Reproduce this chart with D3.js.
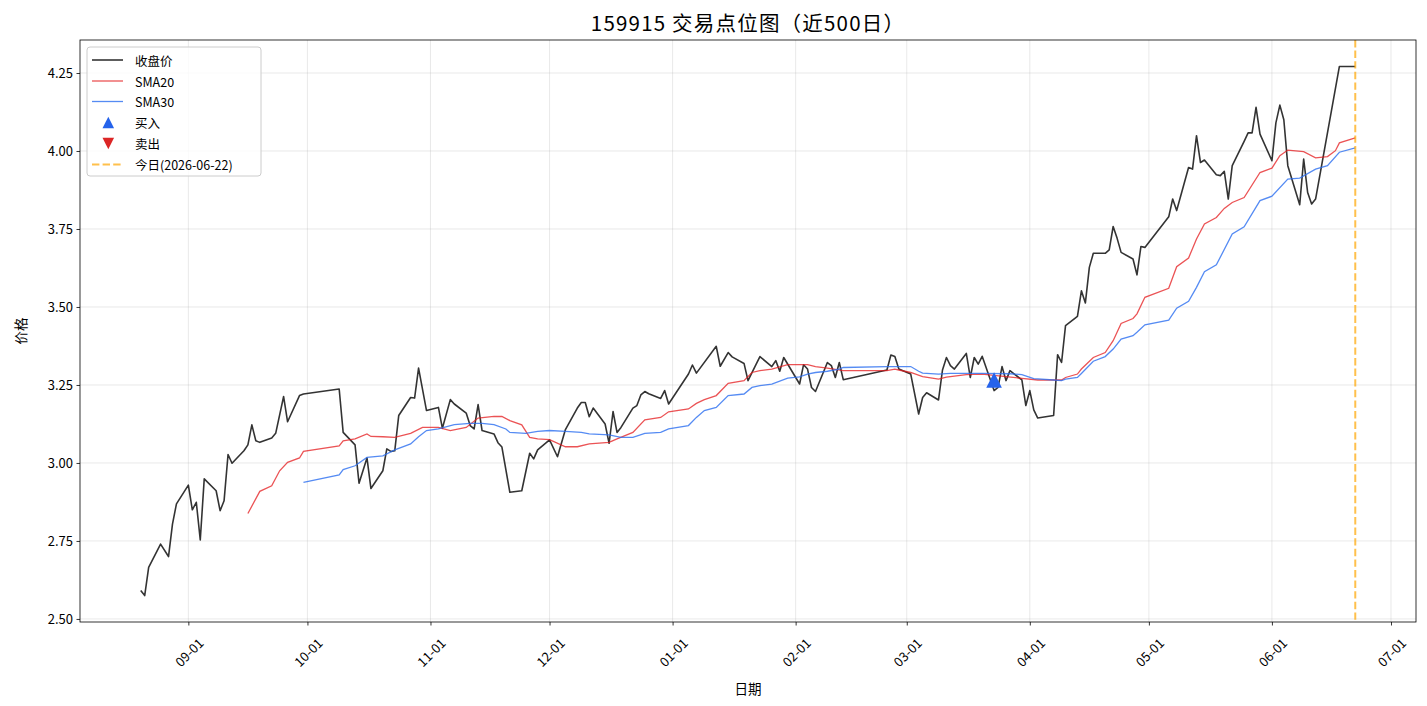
<!DOCTYPE html>
<html><head><meta charset="utf-8">
<script src="https://cdn.jsdelivr.net/npm/d3@7"></script>
<style>
body{margin:0;background:#fff}
svg{display:block}
text{font-family:"Noto Sans CJK SC","DejaVu Sans",sans-serif;fill:#000}
</style>
</head><body>
<svg id="chart" width="1427" height="706"></svg>
<script>
// ---------------- DATA ----------------
const closeDates = [
"2025-08-20","2025-08-21","2025-08-22","2025-08-25","2025-08-27","2025-08-28","2025-08-29",
"2025-09-01","2025-09-02","2025-09-03","2025-09-04","2025-09-05","2025-09-08","2025-09-09","2025-09-10","2025-09-11","2025-09-12",
"2025-09-15","2025-09-16","2025-09-17","2025-09-18","2025-09-19","2025-09-22","2025-09-23","2025-09-25","2025-09-26","2025-09-29","2025-09-30",
"2025-10-09","2025-10-10","2025-10-13","2025-10-14","2025-10-16","2025-10-17","2025-10-20","2025-10-21","2025-10-22","2025-10-23","2025-10-24",
"2025-10-27","2025-10-28","2025-10-29","2025-10-31","2025-11-03","2025-11-04","2025-11-06","2025-11-07","2025-11-10","2025-11-11","2025-11-12",
"2025-11-13","2025-11-14","2025-11-17","2025-11-18","2025-11-19","2025-11-21","2025-11-24","2025-11-26","2025-11-27","2025-11-28",
"2025-12-01","2025-12-03","2025-12-05","2025-12-08","2025-12-09","2025-12-10","2025-12-11","2025-12-12","2025-12-15","2025-12-16","2025-12-17",
"2025-12-18","2025-12-19","2025-12-22","2025-12-23","2025-12-24","2025-12-25","2025-12-26","2025-12-29","2025-12-30","2025-12-31",
"2026-01-05","2026-01-06","2026-01-07","2026-01-12","2026-01-13","2026-01-15","2026-01-16","2026-01-19","2026-01-20","2026-01-23",
"2026-01-26","2026-01-27","2026-01-28","2026-01-29","2026-02-02","2026-02-03","2026-02-04","2026-02-05","2026-02-06","2026-02-09",
"2026-02-10","2026-02-11","2026-02-12","2026-02-13","2026-02-24","2026-02-25","2026-02-26","2026-02-27","2026-03-02","2026-03-04",
"2026-03-05","2026-03-06","2026-03-09","2026-03-10","2026-03-11","2026-03-12","2026-03-13","2026-03-16","2026-03-17","2026-03-18",
"2026-03-19","2026-03-20","2026-03-23","2026-03-24","2026-03-25","2026-03-26","2026-03-27","2026-03-30","2026-03-31","2026-04-01",
"2026-04-02","2026-04-03","2026-04-07","2026-04-08","2026-04-09","2026-04-10","2026-04-13","2026-04-14","2026-04-15","2026-04-16",
"2026-04-17","2026-04-20","2026-04-21","2026-04-22","2026-04-23","2026-04-24","2026-04-27","2026-04-28","2026-04-29","2026-04-30",
"2026-05-06","2026-05-07","2026-05-08","2026-05-11","2026-05-12","2026-05-13","2026-05-14","2026-05-15","2026-05-18","2026-05-19",
"2026-05-20","2026-05-21","2026-05-22","2026-05-25","2026-05-26","2026-05-27","2026-05-28","2026-05-29","2026-06-01","2026-06-02",
"2026-06-03","2026-06-04","2026-06-05","2026-06-08","2026-06-09","2026-06-10","2026-06-11","2026-06-12","2026-06-18","2026-06-22"
];
const closeValues = [
2.591,2.575,2.665,2.740,2.700,2.804,2.869,
2.929,2.850,2.874,2.753,2.949,2.911,2.847,2.879,3.027,2.999,
3.039,3.058,3.122,3.071,3.066,3.080,3.095,3.213,3.132,3.216,3.221,
3.237,3.098,3.058,2.935,3.016,2.918,2.975,3.045,3.037,3.039,3.152,
3.210,3.208,3.304,3.168,3.178,3.111,3.203,3.189,3.160,3.120,3.109,
3.187,3.104,3.093,3.065,3.051,2.906,2.911,3.031,3.013,3.042,
3.074,3.020,3.107,3.176,3.194,3.194,3.148,3.176,3.125,3.063,3.165,
3.098,3.114,3.176,3.184,3.218,3.229,3.222,3.207,3.232,3.189,
3.285,3.314,3.288,3.374,3.310,3.354,3.340,3.319,3.264,3.341,
3.309,3.328,3.294,3.338,3.253,3.315,3.301,3.242,3.229,3.322,
3.312,3.274,3.322,3.267,3.298,3.346,3.341,3.301,3.285,3.157,
3.210,3.225,3.202,3.298,3.338,3.312,3.301,3.351,3.274,3.338,
3.317,3.342,3.232,3.242,3.309,3.264,3.296,3.266,3.184,3.232,
3.170,3.144,3.152,3.347,3.322,3.440,3.470,3.552,3.513,3.627,
3.672,3.672,3.683,3.758,3.720,3.675,3.654,3.603,3.694,3.691,
3.789,3.846,3.809,3.947,3.942,4.049,3.963,3.971,3.924,3.921,
3.935,3.846,3.953,4.031,4.058,4.058,4.140,4.054,3.969,4.090,
4.147,4.100,3.953,3.828,3.974,3.867,3.830,3.846,4.271,4.271
];

const sma20Dates = [
"2025-09-16","2025-09-19","2025-09-22","2025-09-24","2025-09-26","2025-09-29","2025-09-30","2025-10-09","2025-10-10","2025-10-13",
"2025-10-16","2025-10-17","2025-10-20","2025-10-23","2025-10-27","2025-10-30","2025-11-03","2025-11-06","2025-11-10","2025-11-13",
"2025-11-17","2025-11-19","2025-11-21","2025-11-24","2025-11-26","2025-11-28","2025-12-01","2025-12-05","2025-12-08","2025-12-11",
"2025-12-16","2025-12-18","2025-12-22","2025-12-25","2025-12-29","2025-12-31","2026-01-05","2026-01-07","2026-01-09","2026-01-12",
"2026-01-15","2026-01-19","2026-01-21","2026-01-23","2026-01-26","2026-01-30","2026-02-04","2026-02-06","2026-02-09","2026-02-13",
"2026-02-24","2026-02-26","2026-02-27","2026-03-02","2026-03-05","2026-03-09","2026-03-11","2026-03-16","2026-03-20","2026-03-26",
"2026-03-30","2026-04-03","2026-04-09","2026-04-10","2026-04-13","2026-04-14","2026-04-17","2026-04-20","2026-04-22","2026-04-24",
"2026-04-27","2026-04-28","2026-04-30","2026-05-06","2026-05-08","2026-05-11","2026-05-13","2026-05-15","2026-05-18","2026-05-20",
"2026-05-22","2026-05-25","2026-05-29","2026-06-01","2026-06-03","2026-06-05","2026-06-09","2026-06-12","2026-06-15","2026-06-17",
"2026-06-18","2026-06-22"
];
const sma20Values = [
2.838,2.909,2.927,2.975,3.002,3.016,3.037,3.055,3.071,3.077,
3.093,3.085,3.084,3.082,3.095,3.114,3.114,3.104,3.114,3.144,
3.149,3.149,3.136,3.122,3.082,3.077,3.075,3.052,3.052,3.061,
3.066,3.077,3.098,3.138,3.146,3.164,3.173,3.191,3.203,3.216,
3.255,3.264,3.290,3.296,3.301,3.315,3.315,3.309,3.304,3.296,
3.296,3.301,3.298,3.290,3.277,3.269,3.275,3.283,3.285,3.277,
3.271,3.266,3.266,3.274,3.285,3.301,3.338,3.354,3.392,3.447,
3.463,3.478,3.531,3.560,3.629,3.657,3.718,3.766,3.787,3.816,
3.835,3.851,3.931,3.945,3.985,4.003,3.998,3.978,3.982,4.001,
4.026,4.042
];

const sma30Dates = [
"2025-09-30","2025-10-09","2025-10-10","2025-10-13","2025-10-16","2025-10-20","2025-10-23","2025-10-27","2025-10-29","2025-10-31",
"2025-11-03","2025-11-07","2025-11-11","2025-11-14","2025-11-17","2025-11-20","2025-11-21","2025-11-25","2025-11-28","2025-12-01",
"2025-12-05","2025-12-09","2025-12-11","2025-12-16","2025-12-19","2025-12-22","2025-12-25","2025-12-29","2025-12-31","2026-01-05",
"2026-01-07","2026-01-09","2026-01-12","2026-01-15","2026-01-19","2026-01-21","2026-01-23","2026-01-26","2026-01-30","2026-02-02",
"2026-02-04","2026-02-06","2026-02-09","2026-02-12","2026-02-13","2026-02-24","2026-03-02","2026-03-04","2026-03-05","2026-03-09",
"2026-03-12","2026-03-20","2026-03-27","2026-03-30","2026-04-02","2026-04-07","2026-04-09","2026-04-10","2026-04-13","2026-04-14",
"2026-04-17","2026-04-20","2026-04-22","2026-04-24","2026-04-27","2026-04-28","2026-04-30","2026-05-06","2026-05-08","2026-05-11",
"2026-05-13","2026-05-15","2026-05-18","2026-05-22","2026-05-25","2026-05-29","2026-06-01","2026-06-05","2026-06-08","2026-06-12",
"2026-06-15","2026-06-18","2026-06-22"
];
const sma30Values = [
2.938,2.962,2.979,2.991,3.018,3.023,3.042,3.061,3.084,3.104,
3.109,3.123,3.127,3.127,3.123,3.109,3.098,3.095,3.101,3.104,
3.101,3.098,3.093,3.090,3.082,3.082,3.095,3.098,3.109,3.120,
3.146,3.168,3.178,3.216,3.221,3.242,3.248,3.253,3.272,3.276,
3.285,3.290,3.294,3.301,3.306,3.309,3.309,3.294,3.288,3.285,
3.287,3.287,3.286,3.283,3.270,3.266,3.264,3.269,3.274,3.287,
3.326,3.341,3.365,3.397,3.408,3.419,3.443,3.458,3.496,3.518,
3.563,3.613,3.635,3.734,3.757,3.841,3.855,3.910,3.913,3.942,
3.953,3.996,4.010
];

const buyDates = ["2026-03-23"];
const buyValues = [3.266];
const sellDates = [];
const sellValues = [];
const todayDate = "2026-06-22";

const yTickValues = [2.50, 2.75, 3.00, 3.25, 3.50, 3.75, 4.00, 4.25];
const titleText = "159915 交易点位图（近500日）";
const legendLabels = ["收盘价", "SMA20", "SMA30", "买入", "卖出", "今日(2026-06-22)"];

// ---------------- CHART ----------------
const parse = d3.timeParse("%Y-%m-%d");
const W = 1427, H = 706;
const m = {left: 80, right: 11, top: 40, bottom: 84};
const pw = W - m.left - m.right, ph = H - m.top - m.bottom;

const closeData = closeDates.map((d, i) => ({date: parse(d), value: closeValues[i]}));
const sma20Data = sma20Dates.map((d, i) => ({date: parse(d), value: sma20Values[i]}));
const sma30Data = sma30Dates.map((d, i) => ({date: parse(d), value: sma30Values[i]}));
const buyData = buyDates.map((d, i) => ({date: parse(d), value: buyValues[i]}));
const sellData = sellDates.map((d, i) => ({date: parse(d), value: sellValues[i]}));
const today = parse(todayDate);

const xExt = d3.extent(closeData, d => d.date);
const xPad = (xExt[1] - xExt[0]) * 0.05;
const x = d3.scaleTime()
  .domain([new Date(+xExt[0] - xPad), new Date(+xExt[1] + xPad)])
  .range([m.left, m.left + pw]);
const yExt = d3.extent(closeData, d => d.value);
const yPad = (yExt[1] - yExt[0]) * 0.05;
const y = d3.scaleLinear()
  .domain([yExt[0] - yPad, yExt[1] + yPad])
  .range([m.top + ph, m.top]);

const svg = d3.select("#chart");
svg.append("rect").attr("width", W).attr("height", H).attr("fill", "#fff");

const xTicks = d3.timeMonth.range(d3.timeMonth.ceil(x.domain()[0]), x.domain()[1]);

// grid
const grid = svg.append("g");
grid.selectAll(".gx").data(xTicks).join("line")
  .attr("x1", d => x(d)).attr("x2", d => x(d))
  .attr("y1", m.top).attr("y2", m.top + ph)
  .attr("stroke", "#b0b0b0").attr("stroke-opacity", 0.35).attr("stroke-width", 0.8);
grid.selectAll(".gy").data(yTickValues).join("line")
  .attr("x1", m.left).attr("x2", m.left + pw)
  .attr("y1", d => y(d)).attr("y2", d => y(d))
  .attr("stroke", "#b0b0b0").attr("stroke-opacity", 0.35).attr("stroke-width", 0.8);

// clip
svg.append("clipPath").attr("id", "clip").append("rect")
  .attr("x", m.left).attr("y", m.top).attr("width", pw).attr("height", ph);
const plot = svg.append("g").attr("clip-path", "url(#clip)");

const line = d3.line().x(d => x(d.date)).y(d => y(d.value));

plot.append("path").datum(closeData).attr("d", line)
  .attr("fill", "none").attr("stroke", "#000").attr("stroke-opacity", 0.8)
  .attr("stroke-width", 1.6).attr("stroke-linejoin", "round");
plot.append("path").datum(sma20Data).attr("d", line)
  .attr("fill", "none").attr("stroke", "#e41a1c").attr("stroke-opacity", 0.75)
  .attr("stroke-width", 1.3);
plot.append("path").datum(sma30Data).attr("d", line)
  .attr("fill", "none").attr("stroke", "#2b6ef0").attr("stroke-opacity", 0.8)
  .attr("stroke-width", 1.3);

const tri = (cx, cy, h, up) => up
  ? `M${cx},${cy - h}L${cx + h},${cy + h}L${cx - h},${cy + h}Z`
  : `M${cx},${cy + h}L${cx + h},${cy - h}L${cx - h},${cy - h}Z`;

plot.selectAll(".buy").data(buyData).join("path")
  .attr("d", d => tri(x(d.date), y(d.value), 7.8, true)).attr("fill", "#2563eb");
plot.selectAll(".sell").data(sellData).join("path")
  .attr("d", d => tri(x(d.date), y(d.value), 7.8, false)).attr("fill", "#dc2626");

// today line
svg.append("line")
  .attr("x1", x(today)).attr("x2", x(today)).attr("y1", m.top).attr("y2", m.top + ph)
  .attr("stroke", "#ffa500").attr("stroke-opacity", 0.7).attr("stroke-width", 2)
  .attr("stroke-dasharray", "7.4,3.2");

// axes frame
svg.append("rect").attr("x", m.left).attr("y", m.top).attr("width", pw).attr("height", ph)
  .attr("fill", "none").attr("stroke", "#000").attr("stroke-width", 0.8);

// x axis
const xAxis = d3.axisBottom(x).tickValues(xTicks).tickFormat(d3.timeFormat("%m-%d"))
  .tickSize(3.5).tickSizeOuter(0);
const gx = svg.append("g").attr("transform", `translate(0,${m.top + ph})`).call(xAxis);
gx.select(".domain").remove();
gx.selectAll(".tick line").attr("stroke", "#000").attr("stroke-width", 0.8);
gx.selectAll(".tick text").remove();
gx.selectAll(".tick").append("text")
  .attr("transform", "translate(0,30) rotate(-45)")
  .attr("text-anchor", "middle").attr("dominant-baseline", "central")
  .attr("font-size", 13).attr("fill", "#000")
  .text(d => d3.timeFormat("%m-%d")(d));

// y axis
const yAxis = d3.axisLeft(y).tickValues(yTickValues).tickFormat(d3.format(".2f"))
  .tickSize(3.5).tickSizeOuter(0).tickPadding(3.5);
const gy = svg.append("g").attr("transform", `translate(${m.left},0)`).call(yAxis);
gy.select(".domain").remove();
gy.selectAll(".tick line").attr("stroke", "#000").attr("stroke-width", 0.8);
gy.selectAll(".tick text").attr("font-size", 13).attr("fill", "#000")
  .attr("font-family", "'Noto Sans CJK SC', sans-serif");

// labels
svg.append("text").attr("x", m.left + pw / 2).attr("y", 22)
  .attr("text-anchor", "middle").attr("dominant-baseline", "central")
  .attr("font-size", 20.5).attr("letter-spacing", "1.2px").text(titleText);
svg.append("text").attr("x", m.left + pw / 2).attr("y", 688)
  .attr("text-anchor", "middle").attr("dominant-baseline", "central")
  .attr("font-size", 13.5).text("日期");
svg.append("text").attr("transform", `translate(20,${m.top + ph / 2}) rotate(-90)`)
  .attr("text-anchor", "middle").attr("dominant-baseline", "central")
  .attr("font-size", 13.5).text("价格");

// legend
const lg = svg.append("g");
lg.append("rect").attr("x", 87).attr("y", 47).attr("width", 174).attr("height", 129)
  .attr("rx", 3).attr("fill", "#fff").attr("fill-opacity", 0.8)
  .attr("stroke", "#cccccc").attr("stroke-width", 1);
const rows = [60, 81, 101.5, 122.5, 143.5, 164.5];
const legendStyles = [
  {type: "line", color: "#000", op: 0.8, w: 1.6},
  {type: "line", color: "#e41a1c", op: 0.75, w: 1.3},
  {type: "line", color: "#2b6ef0", op: 0.8, w: 1.3},
  {type: "up", color: "#2563eb"},
  {type: "down", color: "#dc2626"},
  {type: "dash", color: "#ffa500", op: 0.7, w: 2}
];
legendLabels.forEach((lab, i) => {
  const s = legendStyles[i], cy = rows[i];
  if (s.type === "line" || s.type === "dash") {
    lg.append("line").attr("x1", 92).attr("x2", 123).attr("y1", cy).attr("y2", cy)
      .attr("stroke", s.color).attr("stroke-opacity", s.op).attr("stroke-width", s.w)
      .attr("stroke-dasharray", s.type === "dash" ? "7.4,3.2" : null);
  } else {
    lg.append("path").attr("d", tri(108.3, cy, 5.8, s.type === "up")).attr("fill", s.color);
  }
  lg.append("text").attr("x", 135).attr("y", cy).attr("dominant-baseline", "central")
    .attr("font-size", 12.5).text(lab);
});
</script>
</body></html>
